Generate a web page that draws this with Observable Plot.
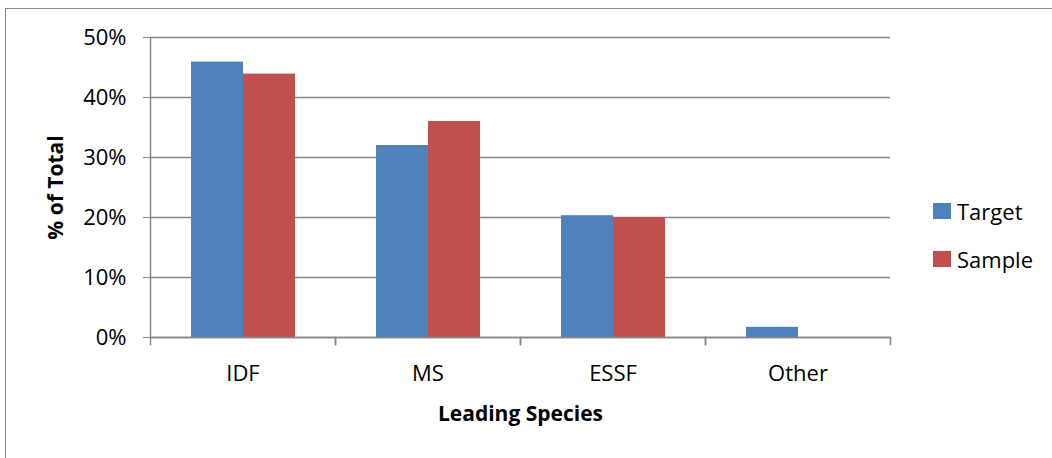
<!DOCTYPE html>
<html><head><meta charset="utf-8">
<script src="https://cdn.jsdelivr.net/npm/d3@7"></script>
<script src="https://cdn.jsdelivr.net/npm/@observablehq/plot@0.6"></script>
<style>
body{margin:0;background:#fff;font-family:"Open Sans",sans-serif}
#wrap{position:relative;width:1052px;height:458px;overflow:hidden;background:#fff}
#border{position:absolute;left:5px;top:8px;width:1100px;height:500px;border:1.5px solid #8a8a8a;box-sizing:border-box}
#chart{position:absolute;left:0;top:0}
#legend{position:absolute;left:933px;top:187px;font-family:"Open Sans",sans-serif;font-size:22px;color:#000}
.item{display:flex;align-items:center;height:48px}
.sw{width:18px;height:16px;margin-right:6px}
</style></head>
<body>
<div id="wrap"><div id="border"></div><div id="chart"></div><div id="legend"></div></div>
<script>
const categories = ["IDF", "MS", "ESSF", "Other"];
const series = ["Target", "Sample"];
const targetValues = [0.459, 0.320, 0.203, 0.017];
const sampleValues = [0.439, 0.360, 0.200, 0.0];
const yTicks = [0, 0.1, 0.2, 0.3, 0.4, 0.5];
const colors = ["#4f81bd", "#c0504d"];

const data = categories.flatMap((c, i) => [
  {category: c, series: "Target", value: targetValues[i]},
  {category: c, series: "Sample", value: sampleValues[i]}
]);
const gray = "#868686";
const chart = Plot.plot({
  width: 1052, height: 458,
  marginLeft: 149, marginRight: 162, marginTop: 37, marginBottom: 121,
  style: {fontFamily: "'Open Sans', sans-serif", fontSize: "22px", color: "#000", background: "transparent"},
  fx: {domain: categories, padding: 0},
  x: {domain: series, paddingInner: 0, paddingOuter: 0.76, axis: null},
  y: {domain: [0, 0.5]},
  color: {domain: series, range: colors},
  marks: [
    Plot.gridY(yTicks, {stroke: gray, strokeOpacity: 1, strokeWidth: 1.5}),
    Plot.barY(data, {fx: "category", x: "series", y: "value", fill: "series"}),
    Plot.ruleY([0], {stroke: gray, strokeWidth: 1.5}),
    Plot.frame({anchor: "left", facet: "super", stroke: gray, strokeWidth: 1.5}),
    Plot.frame({anchor: "left", stroke: gray, strokeWidth: 1.5, insetTop: 300, insetBottom: -7}),
    Plot.frame({anchor: "right", stroke: gray, strokeWidth: 1.5, insetTop: 300, insetBottom: -7}),
    Plot.axisY(yTicks, {tickFormat: d3.format(".0%"), tickSize: 7, tickPadding: 17, stroke: gray, fill: "#000", fontSize: 22,
      label: "% of Total", labelArrow: "none", labelAnchor: "center", labelOffset: 102}),
    Plot.axisFx({anchor: "bottom", tickSize: 0, tickPadding: 28, fontSize: 22, fill: "#000",
      label: "Leading Species", labelArrow: "none", labelAnchor: "center", labelOffset: 83})
  ]
});
d3.select(chart).selectAll('[aria-label="y-axis label"], [aria-label="fx-axis label"]')
  .attr("font-weight", "bold").attr("font-size", 21);
d3.select(chart).selectAll('[aria-label="y-axis label"] text').text("% of Total");
d3.select(chart).selectAll('[aria-label="fx-axis label"] text').text("Leading Species");
document.getElementById("chart").appendChild(chart);

const legend = d3.select("#legend");
series.forEach((s, i) => {
  const it = legend.append("div").attr("class", "item");
  it.append("div").attr("class", "sw").style("background", colors[i]);
  it.append("span").text(s);
});
</script>
</body></html>
